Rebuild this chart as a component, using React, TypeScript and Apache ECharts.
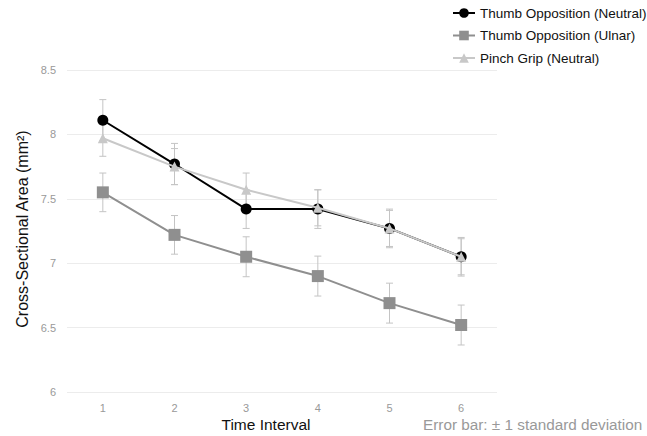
import React, { useEffect, useRef } from "react";
import * as echarts from "echarts";

const categories = ["1", "2", "3", "4", "5", "6"];
const seriesNames = ["Thumb Opposition (Neutral)", "Thumb Opposition (Ulnar)", "Pinch Grip (Neutral)"];
const neutralMean = [8.11, 7.77, 7.42, 7.42, 7.27, 7.05];
const neutralSd = [0.16, 0.16, 0.15, 0.15, 0.15, 0.15];
const ulnarMean = [7.55, 7.22, 7.05, 6.9, 6.69, 6.52];
const ulnarSd = [0.15, 0.15, 0.155, 0.155, 0.155, 0.155];
const pinchMean = [7.97, 7.75, 7.57, 7.43, 7.27, 7.05];
const pinchSd = [0.14, 0.14, 0.13, 0.14, 0.14, 0.14];
const yTicks = { min: 6, max: 8.5, interval: 0.5 };

const FONT = "Liberation Sans, Arial, sans-serif";

function errorSeries(mean: number[], sd: number[], name: string) {
  return {
    type: "custom",
    name: name + " err",
    silent: true,
    z: 1,
    data: mean.map((m, i) => [i, m - sd[i], m + sd[i]]),
    renderItem: (params: any, api: any) => {
      const x = api.value(0);
      const lo = api.coord([x, api.value(1)]);
      const hi = api.coord([x, api.value(2)]);
      const w = 3.5;
      const style = { stroke: "#c4c4c4", lineWidth: 1 };
      return {
        type: "group",
        children: [
          { type: "line", shape: { x1: lo[0], y1: lo[1], x2: hi[0], y2: hi[1] }, style },
          { type: "line", shape: { x1: lo[0] - w, y1: lo[1], x2: lo[0] + w, y2: lo[1] }, style },
          { type: "line", shape: { x1: hi[0] - w, y1: hi[1], x2: hi[0] + w, y2: hi[1] }, style },
        ],
      };
    },
  };
}

export default function App() {
  const ref = useRef<HTMLDivElement>(null);
  useEffect(() => {
    const chart = echarts.init(ref.current!, null, { renderer: "svg" });
    chart.setOption({
      animation: false,
      textStyle: { fontFamily: FONT },
      grid: { left: 67, right: 150, top: 70, bottom: 44 },
      legend: {
        orient: "vertical",
        left: 447,
        top: 1,
        itemWidth: 22,
        itemHeight: 12,
        itemGap: 8.5,
        data: seriesNames,
        textStyle: { fontSize: 13.5, color: "#111" },
      },
      xAxis: {
        type: "category",
        data: categories,
        boundaryGap: true,
        axisLine: { show: false },
        axisTick: { show: false },
        axisLabel: { color: "#999", fontSize: 11, margin: 10 },
      },
      yAxis: {
        type: "value",
        min: yTicks.min,
        max: yTicks.max,
        interval: yTicks.interval,
        axisLine: { show: false },
        axisTick: { show: false },
        axisLabel: { color: "#999", fontSize: 11, margin: 11 },
        splitLine: { lineStyle: { color: "#ececec", width: 1 } },
      },
      graphic: [
        {
          type: "text",
          x: 22,
          y: 229,
          rotation: Math.PI / 2,
          style: {
            text: "Cross-Sectional Area (mm²)",
            fontSize: 16,
            fill: "#111",
            align: "center",
            verticalAlign: "middle",
            fontFamily: FONT,
          },
        },
        {
          type: "text",
          x: 266,
          y: 424,
          style: {
            text: "Time Interval",
            fontSize: 15.5,
            fill: "#111",
            align: "center",
            verticalAlign: "middle",
            fontFamily: FONT,
          },
        },
        {
          type: "text",
          x: 423,
          y: 424,
          style: {
            text: "Error bar: ± 1 standard deviation",
            fontSize: 15.3,
            fill: "#999",
            align: "left",
            verticalAlign: "middle",
            fontFamily: FONT,
          },
        },
      ],
      series: [
        errorSeries(neutralMean, neutralSd, seriesNames[0]),
        errorSeries(ulnarMean, ulnarSd, seriesNames[1]),
        errorSeries(pinchMean, pinchSd, seriesNames[2]),
        {
          name: seriesNames[1],
          type: "line",
          data: ulnarMean,
          symbol: "rect",
          symbolSize: 12,
          z: 3,
          lineStyle: { color: "#8f8f8f", width: 2 },
          itemStyle: { color: "#8f8f8f" },
        },
        {
          name: seriesNames[0],
          type: "line",
          data: neutralMean,
          symbol: "circle",
          symbolSize: 11,
          z: 4,
          lineStyle: { color: "#000", width: 2 },
          itemStyle: { color: "#000" },
        },
        {
          name: seriesNames[2],
          type: "line",
          data: pinchMean,
          symbol: "triangle",
          symbolSize: 10,
          z: 5,
          lineStyle: { color: "#c8c8c8", width: 2 },
          itemStyle: { color: "#c8c8c8" },
        },
      ],
    });
    return () => chart.dispose();
  }, []);
  return <div ref={ref} style={{ width: 647, height: 436, position: "absolute", left: 0, top: 0 }} />;
}
